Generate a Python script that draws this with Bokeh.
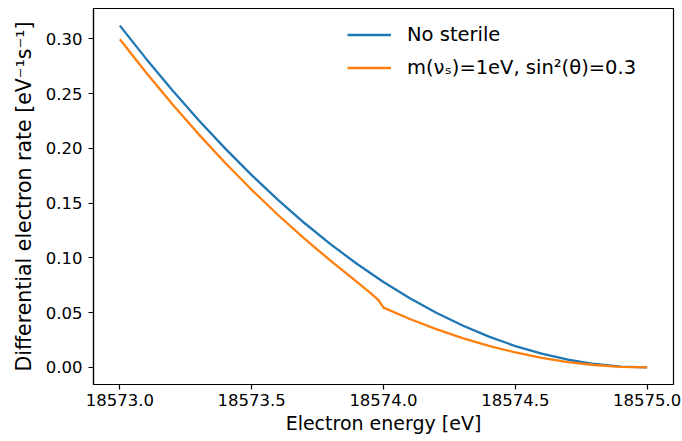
from bokeh.plotting import figure
from bokeh.models import FixedTicker, PrintfTickFormatter, Legend, LegendItem
from bokeh.embed import file_html
from bokeh.resources import INLINE

# Electron energy grid [eV] and rates
energy_blue = [18573.0, 18573.1, 18573.2, 18573.3, 18573.4, 18573.5, 18573.6, 18573.7,
               18573.8, 18573.9, 18574.0, 18574.1, 18574.2, 18574.3, 18574.4, 18574.5,
               18574.6, 18574.7, 18574.8, 18574.9, 18575.0]
rate_no_sterile = [0.3120, 0.2816, 0.2527, 0.2254, 0.1997, 0.1755, 0.1529, 0.1318,
                   0.1123, 0.0944, 0.0780, 0.0632, 0.0499, 0.0382, 0.0281, 0.0195,
                   0.0125, 0.0070, 0.0031, 0.0008, 0.0000]

energy_orange = [18573.0, 18573.1, 18573.2, 18573.3, 18573.4, 18573.5, 18573.6, 18573.7,
                 18573.8, 18573.9, 18573.95, 18573.98, 18574.0, 18574.1, 18574.2, 18574.3,
                 18574.4, 18574.5, 18574.6, 18574.7, 18574.8, 18574.9, 18575.0]
rate_sterile = [0.2995, 0.2689, 0.2399, 0.2125, 0.1866, 0.1621, 0.1391, 0.1176,
                0.0972, 0.0779, 0.0681, 0.0616, 0.0546, 0.0442, 0.0349, 0.0268,
                0.0197, 0.0137, 0.0087, 0.0049, 0.0022, 0.0005, 0.0000]

x_ticks = [18573.0, 18573.5, 18574.0, 18574.5, 18575.0]
y_ticks = [0.00, 0.05, 0.10, 0.15, 0.20, 0.25, 0.30]

label_blue = "No sterile"
label_orange = "m(νₛ)=1eV, sin²(θ)=0.3"

FONT = "DejaVu Sans"

p = figure(width=682, height=441, x_range=(18572.9, 18575.1), y_range=(-0.0156, 0.3276),
           output_backend="svg", toolbar_location=None,
           min_border_left=93, min_border_right=9, min_border_top=8, min_border_bottom=57)

r1 = p.line(energy_blue, rate_no_sterile, line_color="#1f77b4", line_width=2.3)
r2 = p.line(energy_orange, rate_sterile, line_color="#ff7f0e", line_width=2.3)

p.xgrid.visible = False
p.ygrid.visible = False
p.outline_line_color = "black"
p.outline_line_width = 1.2
p.outline_line_alpha = 1

for ax in (p.xaxis[0], p.yaxis[0]):
    ax.axis_line_color = "black"
    ax.axis_line_width = 1.2
    ax.major_tick_line_color = "black"
    ax.major_tick_line_width = 1.2
    ax.minor_tick_line_color = None
    ax.major_tick_in = 0
    ax.major_tick_out = 5
    ax.major_label_text_font = FONT
    ax.major_label_text_font_size = "16.5px"
    ax.major_label_text_color = "black"
    ax.axis_label_text_font = FONT
    ax.axis_label_text_font_style = "normal"
    ax.axis_label_text_color = "black"

p.xaxis[0].ticker = FixedTicker(ticks=x_ticks)
p.xaxis[0].formatter = PrintfTickFormatter(format="%.1f")
p.xaxis[0].axis_label = "Electron energy [eV]"
p.xaxis[0].axis_label_text_font_size = "19px"
p.xaxis[0].major_label_standoff = 4
p.xaxis[0].axis_label_standoff = 3

p.yaxis[0].ticker = FixedTicker(ticks=y_ticks)
p.yaxis[0].formatter = PrintfTickFormatter(format="%.2f")
p.yaxis[0].axis_label = "Differential electron rate [eV⁻¹s⁻¹]"
p.yaxis[0].axis_label_text_font_size = "20.5px"
p.yaxis[0].major_label_standoff = 6
p.yaxis[0].axis_label_standoff = 7

legend = Legend(items=[LegendItem(label=label_blue, renderers=[r1]),
                       LegendItem(label=label_orange, renderers=[r2])],
                location=(239, 290))
legend.label_text_font = FONT
legend.label_text_font_size = "19.5px"
legend.label_text_color = "black"
legend.glyph_width = 44
legend.glyph_height = 23
legend.label_height = 23
legend.label_standoff = 16
legend.spacing = 10
legend.padding = 15
legend.margin = 0
legend.border_line_alpha = 0
legend.background_fill_alpha = 0
p.add_layout(legend)

open("out.html", "w").write(file_html(p, INLINE))
